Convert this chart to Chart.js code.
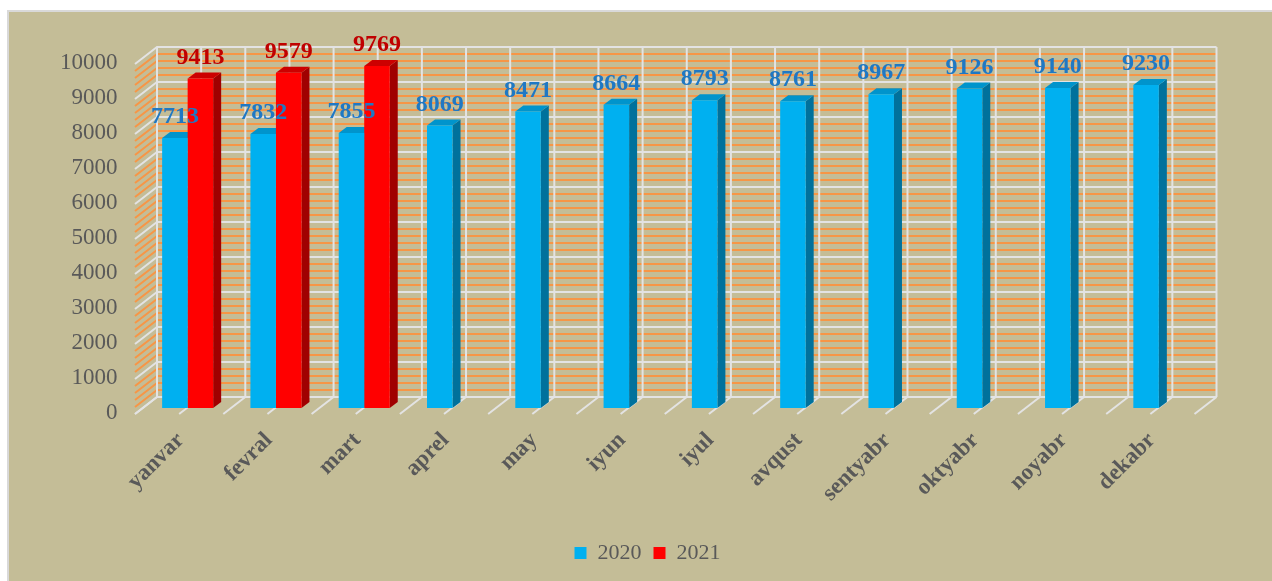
<!DOCTYPE html>
<html>
<head>
<meta charset="utf-8">
<script src="https://cdn.jsdelivr.net/npm/chart.js@4.4.0/dist/chart.umd.min.js"></script>
<style>
  html, body { margin: 0; padding: 0; background: #fff; overflow: hidden; }
  #frame { position: absolute; left: 7px; top: 10px; width: 1300px; height: 620px; background: #C4BD97; border: 2px solid #D9D9D9; box-sizing: border-box; }
  #chart { position: absolute; left: 0; top: 0; }
</style>
</head>
<body>
<div id="frame"></div>
<canvas id="chart" width="1272" height="581"></canvas>
<script>
const months = ["yanvar", "fevral", "mart", "aprel", "may", "iyun", "iyul", "avqust", "sentyabr", "oktyabr", "noyabr", "dekabr"];
const values2020 = [7713, 7832, 7855, 8069, 8471, 8664, 8793, 8761, 8967, 9126, 9140, 9230];
const values2021 = [9413, 9579, 9769, null, null, null, null, null, null, null, null, null];
const yMin = 0;
const yMax = 10000;
const yStep = 1000;
const yMinorStep = 200;

const font = "Liberation Serif, Times New Roman, serif";
const grey = "#595959";

// colours of the 3d faces: front, top, side, label
const faces = [
    { front: "#00B0F0", top: "#0094CC", side: "#00719C", label: "#1F78C4" },
    { front: "#FF0000", top: "#CC0000", side: "#A00000", label: "#C00000" },
];

// depth offsets (px) from the bar plane
const back = { dx: 13.5, dy: -11 };
const front = { dx: -8.5, dy: 6 };
const barDepth = { dx: 8, dy: -6 };

const wall3d = {
    id: "wall3d",
    beforeDraw(chart) {
        // legend sits a bit right of the canvas centre in the original
        if (chart.legend && !chart.legend._moved) {
            chart.legend.left += 46;
            chart.legend.right += 46;
            chart.legend._moved = true;
        }
    },
    beforeDatasetsDraw(chart) {
        const ctx = chart.ctx;
        const area = chart.chartArea;
        const y = chart.scales.y;
        const catW = (area.right - area.left) / months.length;
        const bl = area.left + back.dx;
        const br = area.right + back.dx;
        const fl = area.left + front.dx;
        const y0 = y.getPixelForValue(yMin);
        const y1 = y.getPixelForValue(yMax);

        ctx.save();
        ctx.lineWidth = 2;

        // minor orange lines on back and side wall
        ctx.strokeStyle = "#F79646";
        for (let v = yMin; v <= yMax; v += yMinorStep) {
            if (v % yStep === 0) continue;
            const py = y.getPixelForValue(v);
            ctx.beginPath();
            ctx.moveTo(fl, py + front.dy);
            ctx.lineTo(bl, py + back.dy);
            ctx.lineTo(br, py + back.dy);
            ctx.stroke();
        }

        // vertical lines on back wall and diagonals on floor
        ctx.strokeStyle = "#E3E3E3";
        for (let k = 0; k <= months.length * 2; k++) {
            const x = area.left + k * catW / 2;
            ctx.beginPath();
            ctx.moveTo(x + back.dx, y0 + back.dy);
            ctx.lineTo(x + back.dx, y1 + back.dy);
            ctx.stroke();
            ctx.beginPath();
            ctx.moveTo(x + front.dx, y0 + front.dy);
            ctx.lineTo(x + back.dx, y0 + back.dy);
            ctx.stroke();
        }

        // major white lines
        for (let v = yMin; v <= yMax; v += yStep) {
            const py = y.getPixelForValue(v);
            ctx.beginPath();
            ctx.moveTo(fl, py + front.dy);
            ctx.lineTo(bl, py + back.dy);
            ctx.lineTo(br, py + back.dy);
            ctx.stroke();
        }

        // top and side faces of bars (fronts are drawn by chart.js on top)
        chart.data.datasets.forEach((ds, di) => {
            const meta = chart.getDatasetMeta(di);
            meta.data.forEach((bar, i) => {
                if (ds.data[i] == null) return;
                const p = bar.getProps(["x", "y", "base", "width"], true);
                const l = p.x - p.width / 2;
                const r = p.x + p.width / 2;
                ctx.fillStyle = faces[di].side;
                ctx.beginPath();
                ctx.moveTo(r, p.y);
                ctx.lineTo(r + barDepth.dx, p.y + barDepth.dy);
                ctx.lineTo(r + barDepth.dx, p.base + barDepth.dy);
                ctx.lineTo(r, p.base);
                ctx.closePath();
                ctx.fill();
                ctx.fillStyle = faces[di].top;
                ctx.beginPath();
                ctx.moveTo(l, p.y);
                ctx.lineTo(l + barDepth.dx, p.y + barDepth.dy);
                ctx.lineTo(r + barDepth.dx, p.y + barDepth.dy);
                ctx.lineTo(r, p.y);
                ctx.closePath();
                ctx.fill();
            });
        });
        ctx.restore();
    },
    afterDatasetsDraw(chart) {
        const ctx = chart.ctx;
        ctx.save();
        ctx.font = "bold 24px " + font;
        ctx.textAlign = "center";
        ctx.textBaseline = "alphabetic";
        chart.data.datasets.forEach((ds, di) => {
            const meta = chart.getDatasetMeta(di);
            meta.data.forEach((bar, i) => {
                if (ds.data[i] == null) return;
                ctx.fillStyle = faces[di].label;
                ctx.fillText(String(ds.data[i]), bar.x, bar.y - 15);
            });
        });
        ctx.restore();
    }
};

const ctx = document.getElementById("chart").getContext("2d");
const chart = new Chart(ctx, {
    type: "bar",
    data: {
        labels: months,
        datasets: [
            {
                label: "2020",
                data: values2020,
                backgroundColor: faces[0].front,
                borderWidth: 0,
                categoryPercentage: 0.578,
                barPercentage: 1.0,
            },
            {
                label: "2021",
                data: values2021,
                backgroundColor: faces[1].front,
                borderWidth: 0,
                categoryPercentage: 0.578,
                barPercentage: 1.0,
            },
        ],
    },
    options: {
        responsive: false,
        animation: false,
        layout: {
            padding: { left: 0, right: 69, top: 58, bottom: 7 },
        },
        scales: {
            x: {
                grid: { display: false, drawTicks: false },
                border: { display: false },
                ticks: {
                    autoSkip: false,
                    minRotation: 45,
                    maxRotation: 45,
                    padding: 19,
                    labelOffset: -7,
                    color: grey,
                    font: { family: font, size: 23, weight: "bold" },
                },
                afterFit: (scale) => { scale.height = 122; },
            },
            y: {
                min: yMin,
                max: yMax,
                grid: { display: false, drawTicks: false },
                border: { display: false },
                ticks: {
                    stepSize: yStep,
                    padding: 26,
                    labelOffset: 5,
                    color: grey,
                    font: { family: font, size: 23 },
                    callback: (v) => String(v),
                },
                afterFit: (scale) => { scale.width = 143.5; },
            },
        },
        plugins: {
            legend: {
                position: "bottom",
                labels: {
                    boxWidth: 12,
                    boxHeight: 12,
                    padding: 12,
                    color: grey,
                    font: { family: font, size: 22 },
                },
            },
            tooltip: { enabled: false },
        },
    },
    plugins: [wall3d],
});
</script>
</body>
</html>
